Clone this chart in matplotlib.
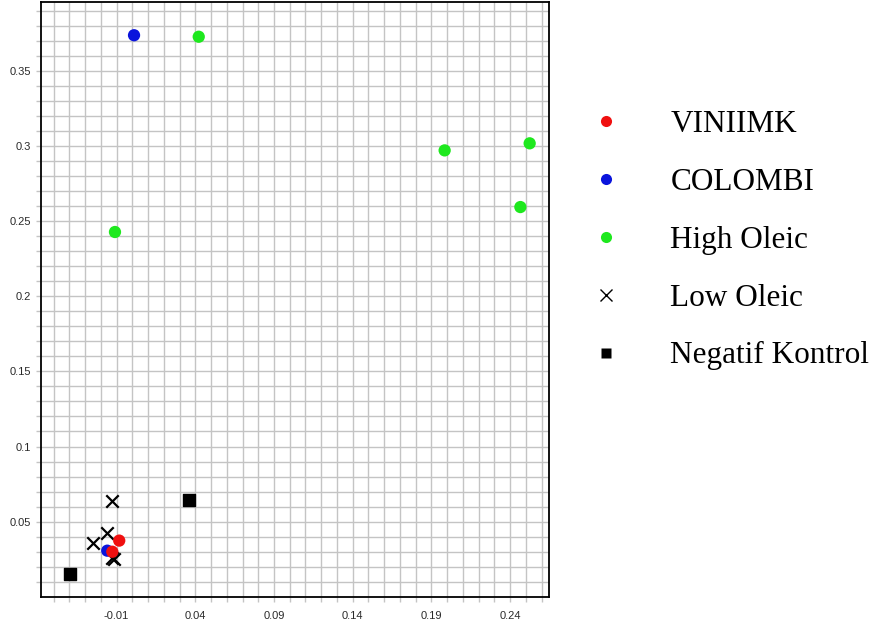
import matplotlib

matplotlib.use("Agg")
import matplotlib.pyplot as plt
import numpy as np
from matplotlib.lines import Line2D

# data
viniimk_x = [-0.0083, -0.0127]
viniimk_y = [0.0374, 0.0300]
colombi_x = [0.0011, -0.0159]
colombi_y = [0.3736, 0.0307]
high_oleic_x = [0.0422, 0.1984, 0.2524, 0.2465, -0.0110]
high_oleic_y = [0.3726, 0.2970, 0.3017, 0.2593, 0.2427]
low_oleic_x = [-0.0131, -0.0163, -0.0252, -0.0129, -0.0118]
low_oleic_y = [0.0640, 0.0423, 0.0360, 0.0260, 0.0250]
neg_x = [0.0358, -0.0394]
neg_y = [0.0643, 0.0152]

x_ticks = [-0.01, 0.04, 0.09, 0.14, 0.19, 0.24]
x_labels = ["-0.01", "0.04", "0.09", "0.14", "0.19", "0.24"]
y_ticks = [0.05, 0.1, 0.15, 0.2, 0.25, 0.3, 0.35]
y_labels = ["0.05", "0.1", "0.15", "0.2", "0.25", "0.3", "0.35"]

fig = plt.figure(figsize=(8.75, 6.31), dpi=100)
ax = fig.add_axes([0.0472, 0.0544, 0.5799, 0.9424])

ax.scatter(low_oleic_x, low_oleic_y, marker="x", s=80, c="black", linewidths=1.6, zorder=3)
ax.scatter(neg_x, neg_y, marker="s", s=66, c="black", zorder=3)
ax.scatter(high_oleic_x, high_oleic_y, marker="o", s=78, c="#1ee81e", edgecolors="none", zorder=3)
ax.scatter(colombi_x, colombi_y, marker="o", s=78, c="#0a14dc", edgecolors="none", zorder=3)
ax.scatter(viniimk_x, viniimk_y, marker="o", s=78, c="#f01010", edgecolors="none", zorder=4)

ax.set_xlim(-0.0578, 0.2645)
ax.set_ylim(0.0001, 0.3957)

ax.set_xticks(x_ticks)
ax.set_xticklabels(x_labels)
ax.set_yticks(y_ticks)
ax.set_yticklabels(y_labels)
ax.set_xticks(np.arange(-0.05, 0.265, 0.01), minor=True)
ax.set_yticks(np.arange(0.01, 0.395, 0.01), minor=True)

ax.grid(which="both", color="#c4c4c4", linewidth=1.0)
ax.set_axisbelow(True)
ax.tick_params(which="both", direction="out", length=3.6, width=1, color="#c4c4c4",
               labelsize=8, labelcolor="#2a2a2a")
ax.tick_params(axis="x", pad=7)
ax.tick_params(axis="y", pad=4)
for lab in ax.get_xticklabels() + ax.get_yticklabels():
    lab.set_family("Liberation Sans")
for sp in ax.spines.values():
    sp.set_color("black")
    sp.set_linewidth(1.3)

handles = [
    Line2D([], [], ls="none", marker="o", ms=8, mfc="#f01010", mec="none"),
    Line2D([], [], ls="none", marker="o", ms=8, mfc="#0a14dc", mec="none"),
    Line2D([], [], ls="none", marker="o", ms=8, mfc="#1ee81e", mec="none"),
    Line2D([], [], ls="none", marker="x", ms=8, mec="black", mew=1),
    Line2D([], [], ls="none", marker="s", ms=7, mfc="black", mec="none"),
]
labels = ["VINIIMK", "COLOMBI", "High Oleic", "Low Oleic", "Negatif Kontrol"]
fig.legend(handles, labels, loc="upper left", bbox_to_anchor=(0.678, 0.825),
           frameon=False, prop={"family": "Liberation Serif", "size": 22.5},
           handlelength=0.8, handletextpad=1.67, labelspacing=0.92,
           borderaxespad=0, borderpad=0)

fig.savefig("out.png", dpi=100)
